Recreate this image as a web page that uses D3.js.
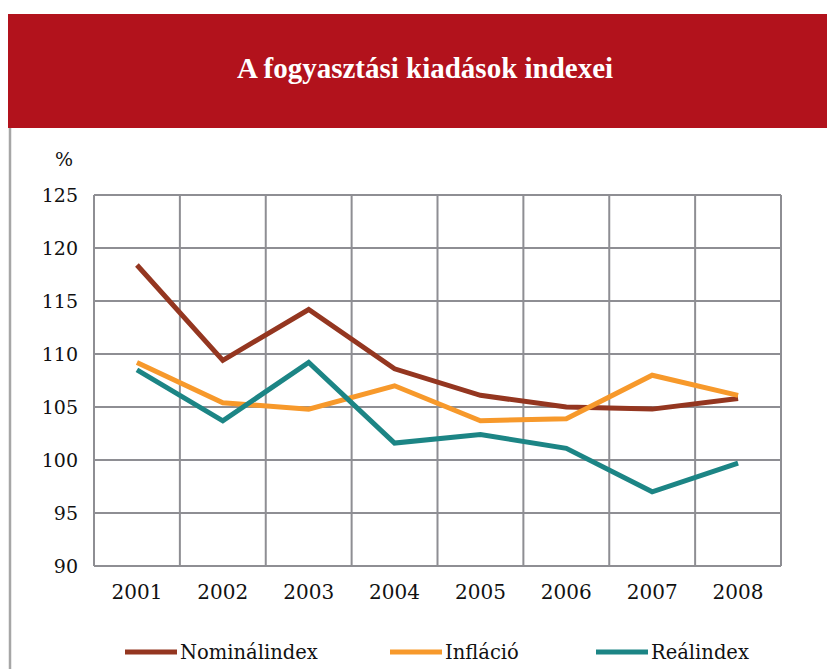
<!DOCTYPE html>
<html><head><meta charset="utf-8">
<script src="https://cdn.jsdelivr.net/npm/d3@7"></script>
<style>body{margin:0;background:#fff}svg{display:block}</style>
</head><body>
<script>
const years = ["2001","2002","2003","2004","2005","2006","2007","2008"];
const nominal = [118.4,109.4,114.2,108.6,106.1,105.0,104.8,105.8];
const inflation = [109.2,105.4,104.8,107.0,103.7,103.9,108.0,106.1];
const real = [108.5,103.7,109.2,101.6,102.4,101.1,97.0,99.7];
const yTicks = [90,95,100,105,110,115,120,125];
const seriesNames = ["Nominálindex","Infláció","Reálindex"];
const seriesColors = ["#943620","#F7992B","#1C8585"];
const title = "A fogyasztási kiadások indexei";

const W=827,H=669;
const svg=d3.select("body").append("svg").attr("width",W).attr("height",H);
const serif="'DejaVu Serif', serif";

svg.append("rect").attr("x",8).attr("y",14).attr("width",W-8).attr("height",114).attr("fill","#B2121C");
svg.append("text").attr("x",425).attr("y",78).attr("text-anchor","middle")
  .attr("fill","#fff").attr("font-family","'Liberation Serif', serif").attr("font-weight","bold")
  .attr("font-size",29).text(title);
svg.append("line").attr("x1",10).attr("x2",10).attr("y1",128).attr("y2",H)
  .attr("stroke","#A6A6A6").attr("stroke-width",2.5);

const x=d3.scaleBand().domain(years).range([94,781]);
const y=d3.scaleLinear().domain([90,125]).range([566,195]);

const g=svg.append("g");
g.selectAll(".hg").data(yTicks).join("line").attr("x1",94).attr("x2",781)
  .attr("y1",d=>y(d)).attr("y2",d=>y(d)).attr("stroke","#8E8E93").attr("stroke-width",2);
const vx=years.map(d=>x(d)).concat([x.range()[1]]);
g.selectAll(".vg").data(vx).join("line").attr("x1",d=>d).attr("x2",d=>d)
  .attr("y1",195).attr("y2",566).attr("stroke","#8E8E93").attr("stroke-width",2);

const yAxis=d3.axisLeft(y).tickValues(yTicks).tickSize(0).tickPadding(16);
const ya=svg.append("g").attr("transform","translate(94,0)").call(yAxis);
ya.select(".domain").remove();
ya.selectAll("text").attr("font-family",serif).attr("font-size",19).attr("fill","#111");
const xAxis=d3.axisBottom(x).tickSize(0).tickPadding(19);
const xa=svg.append("g").attr("transform","translate(0,566)").call(xAxis);
xa.select(".domain").remove();
xa.selectAll("text").attr("font-family",serif).attr("font-size",20).attr("fill","#111");

svg.append("text").attr("x",64).attr("y",166).attr("text-anchor","middle")
  .attr("font-family",serif).attr("font-size",19).attr("fill","#111").text("%");

const line=d3.line().x((d,i)=>x(years[i])+x.bandwidth()/2).y(d=>y(d));
[nominal,inflation,real].forEach((s,i)=>{
  svg.append("path").attr("d",line(s)).attr("fill","none").attr("stroke",seriesColors[i])
    .attr("stroke-width",5).attr("stroke-linejoin","miter");
});

const lx=[125,390,596];
seriesNames.forEach((n,i)=>{
  svg.append("line").attr("x1",lx[i]).attr("x2",lx[i]+52).attr("y1",652).attr("y2",652)
    .attr("stroke",seriesColors[i]).attr("stroke-width",5);
  svg.append("text").attr("x",lx[i]+55).attr("y",659).attr("font-family",serif)
    .attr("font-size",19.5).attr("fill","#111").text(n);
});
</script>
</body></html>
